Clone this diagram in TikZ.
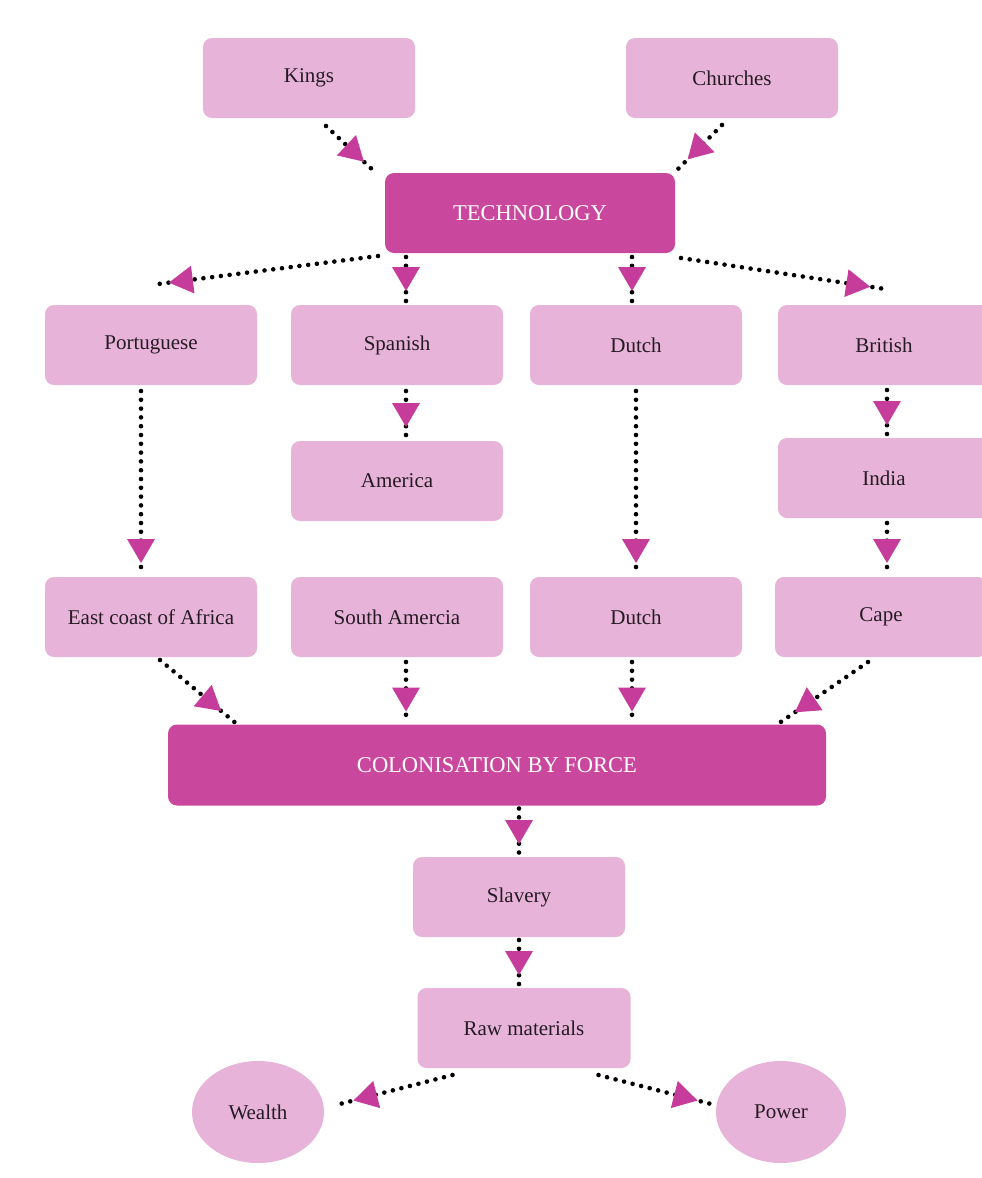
\documentclass[tikz,border=0pt]{standalone}
\usepackage{fontspec}
\setmainfont{Liberation Serif}
\usetikzlibrary{positioning,calc,shapes.geometric,decorations.markings}
\definecolor{boxpink}{HTML}{E8B3D8}
\definecolor{boxdark}{HTML}{C9479D}
\definecolor{tippink}{HTML}{C63C9B}
\definecolor{inkgrey}{HTML}{251B24}

\begin{document}
\begin{tikzpicture}[
    x=1pt, y=-1pt,
    box/.style={fill=boxpink, rounded corners=9pt, minimum width=212pt, minimum height=80pt, inner sep=0pt, outer sep=0pt, align=center, text=inkgrey, font=\fontsize{21}{25}\selectfont},
    bigbox/.style={box, fill=boxdark, text=white, font=\fontsize{22.5}{27}\selectfont},
    blob/.style={ellipse, fill=boxpink, minimum width=132pt, minimum height=102pt, inner sep=0pt, outer sep=0pt, text=inkgrey, font=\fontsize{21}{25}\selectfont},
    dotlink/.style={line width=4.6pt, line cap=round, dash pattern=on 0pt off 8.8pt, postaction={decorate},
        decoration={markings, mark=at position #1 with {\fill[tippink] (-24pt,-14pt) -- (0pt,0pt) -- (-24pt,14pt) -- cycle;}}},
    dotlink/.default=-11pt,
]
\useasboundingbox (0,0) rectangle (982,1178);

% top row
\node[box] (kings) at (309,78) {Kings};
\node[box] (churches) at (732,78) {Churches};
\node[bigbox, minimum width=290pt] (tech) at (530,213) {TECHNOLOGY};

% the four powers
\node[box] (port) at (151,345) {Portuguese};
\node[box] (span) at (397,345) {Spanish};
\node[box] (dutcha) at (636,345) {Dutch};
\node[box] (brit) at (884,345) {British};
\node[box] (america) at (397,481) {America};
\node[box] (india) at (884,478) {India};
\node[box] (east) at (151,617) {East coast of Africa};
\node[box] (south) at (397,617) {South Amercia};
\node[box] (dutchb) at (636,617) {Dutch};
\node[box] (cape) at (881,617) {Cape};

% lower chain
\node[bigbox, minimum width=658pt, minimum height=81pt] (colon) at (497,765) {COLONISATION BY FORCE};
\node[box] (slavery) at (519,897) {Slavery};
\node[box, minimum width=213pt] (raw) at (524,1028) {Raw materials};
\node[blob] (wealth) at (258,1112) {Wealth};
\node[blob, minimum width=130pt] (power) at (781,1112) {Power};

\draw[dotlink=-18pt] ($(kings.south)+(17,8)$) -- ($(tech.north west)+(-8,1)$);
\draw[dotlink=-18pt] ($(churches.south)+(-10,7)$) -- ($(tech.north east)+(0,-1)$);
\draw[dotlink] ($(tech.south west)+(-7,3)$) -- ($(port.north)+(7,-21)$);
\draw[dotlink] ($(tech.south -| span.north)+(9,4)$) -- ($(span.north)+(9,-3)$);
\draw[dotlink] ($(tech.south -| dutcha.north)+(-4,4)$) -- ($(dutcha.north)+(-4,-3)$);
\draw[dotlink=-15pt] ($(tech.south east)+(6,5)$) -- ($(brit.north)+(1,-16)$);
\draw[dotlink] ($(port.south)+(-10,6)$) -- ($(east.north)+(-10,-3)$);
\draw[dotlink] ($(span.south)+(9,6)$) -- ($(america.north)+(9,-3)$);
\draw[dotlink] ($(dutcha.south)+(0,6)$) -- ($(dutchb.north)+(0,-3)$);
\draw[dotlink] ($(brit.south)+(3,5)$) -- ($(india.north)+(3,-2)$);
\draw[dotlink] ($(india.south)+(3,5)$) -- ($(cape.north)+(6,-3)$);
\draw[dotlink=-18pt] ($(east.south)+(9,3)$) -- ($(colon.north west)+(67,-2)$);
\draw[dotlink] ($(south.south)+(9,5)$) -- ($(colon.north -| south.south)+(9,-2)$);
\draw[dotlink] ($(dutchb.south)+(-4,5)$) -- ($(colon.north -| dutchb.south)+(-4,-2)$);
\draw[dotlink=-18pt] ($(cape.south)+(-13,5)$) -- ($(colon.north east)+(-46,-2)$);
\draw[dotlink] ($(colon.south -| slavery.north)+(0,3)$) -- ($(slavery.north)+(0,-2)$);
\draw[dotlink] ($(slavery.south)+(0,3)$) -- ($(raw.north -| slavery.south)+(0,-2)$);
\draw[dotlink=-18pt] ($(raw.south west)+(35,7)$) -- ($(wealth.east)+(12,-7)$);
\draw[dotlink=-18pt] ($(raw.south east)+(-32,7)$) -- ($(power.west)+(-1,-7)$);
\end{tikzpicture}
\end{document}
